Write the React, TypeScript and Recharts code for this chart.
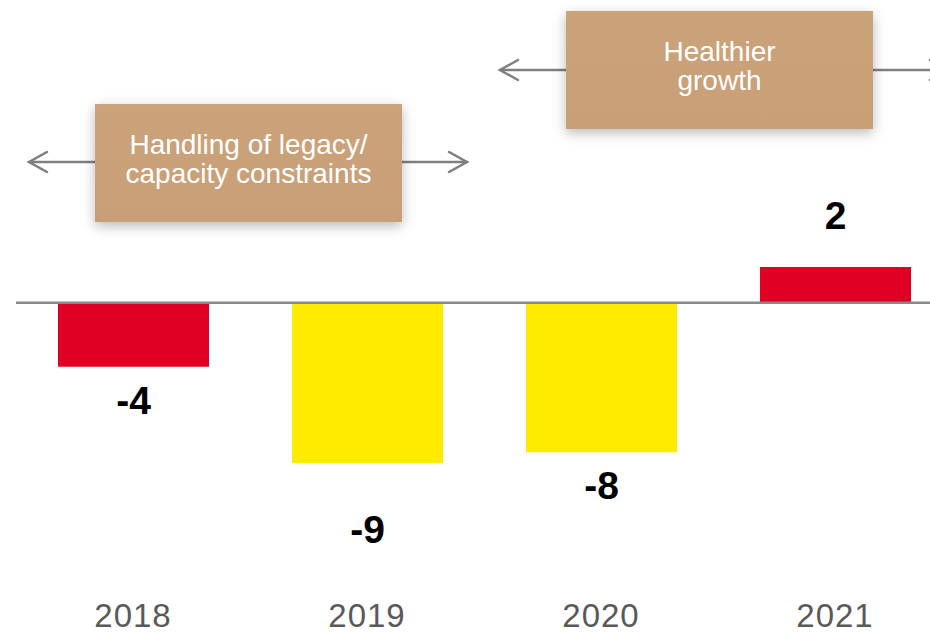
import { BarChart, Bar, XAxis, YAxis, Cell, LabelList, ReferenceLine } from 'recharts'

const YEARS = ['2018', '2019', '2020', '2021']
const CHANGE = [-3.6, -9.0, -8.4, 2.0]
const BAR_COLORS = ['#E00024', '#FFEB00', '#FFEB00', '#E00024']

// distance of each value label's centre from the bar end (px)
const LABEL_GAP = [33, 66, 33, 52]

const data = YEARS.map((year, i) => ({ year, change: CHANGE[i] }))

const FONT = '"Liberation Sans", Arial, sans-serif'

function ValueLabel(props: any) {
  const { x, y, width, height, value, index } = props
  const v = Number(value)
  const cx = x + width / 2
  // recharts gives negative bars a negative height, so y + height is always the bar end
  const end = v >= 0 ? Math.min(y, y + height) : Math.max(y, y + height)
  const cy = v >= 0 ? end - LABEL_GAP[index] : end + LABEL_GAP[index]
  return (
    <text x={cx} y={cy} dy="0.36em" textAnchor="middle" fontFamily={FONT}
      fontWeight="bold" fontSize={39} fill="#000">
      {Math.round(v)}
    </text>
  )
}

const boxStyle: React.CSSProperties = {
  position: 'absolute',
  background: 'linear-gradient(180deg, #CBA37B 0%, #C89F76 100%)',
  boxShadow: '0 4px 12px rgba(0,0,0,0.28)',
  color: '#fff',
  fontFamily: FONT,
  fontSize: 28,
  lineHeight: '29px',
  textAlign: 'center',
  display: 'flex',
  alignItems: 'center',
  justifyContent: 'center',
  paddingBottom: 8,
  boxSizing: 'border-box',
}

function Arrow({ x1, x2, y }: { x1: number; x2: number; y: number }) {
  // arrow pointing from x1 towards x2
  const dir = x2 > x1 ? 1 : -1
  return (
    <g stroke="#7F7F7F" strokeWidth={2.5} fill="none" strokeLinecap="round">
      <line x1={x1} y1={y} x2={x2} y2={y} />
      <polyline points={`${x2 - dir * 18},${y - 10} ${x2},${y} ${x2 - dir * 18},${y + 10}`} />
    </g>
  )
}

export default function App() {
  return (
    <div style={{ position: 'absolute', left: 0, top: 0, width: 930, height: 633, overflow: 'hidden', background: '#fff' }}>
      <BarChart width={952} height={633} data={data}
        margin={{ top: 0, right: 0, bottom: 0, left: 16 }}>
        <XAxis dataKey="year" axisLine={false} tickLine={false} tickSize={0} tickMargin={52} height={81}
          interval={0}
          tick={{ fill: '#595959', fontSize: 33, fontFamily: FONT, letterSpacing: 1 }} />
        <YAxis hide domain={[-14, 17]} />
        <Bar dataKey="change" barSize={151} isAnimationActive={false}>
          {data.map((d, i) => <Cell key={d.year} fill={BAR_COLORS[i]} />)}
          <LabelList dataKey="change" content={ValueLabel} />
        </Bar>
        <ReferenceLine y={0} stroke="#888888" strokeWidth={2.5} />
      </BarChart>

      <svg width={930} height={633} style={{ position: 'absolute', left: 0, top: 0, pointerEvents: 'none' }}>
        <Arrow x1={95} x2={29} y={162} />
        <Arrow x1={402} x2={467} y={162} />
        <Arrow x1={566} x2={500} y={70} />
        <Arrow x1={873} x2={948} y={70} />
      </svg>

      <div style={{ ...boxStyle, left: 95, top: 104, width: 307, height: 118 }}>
        Handling of legacy/<br />capacity constraints
      </div>
      <div style={{ ...boxStyle, left: 566, top: 11, width: 307, height: 118 }}>
        Healthier<br />growth
      </div>
    </div>
  )
}
